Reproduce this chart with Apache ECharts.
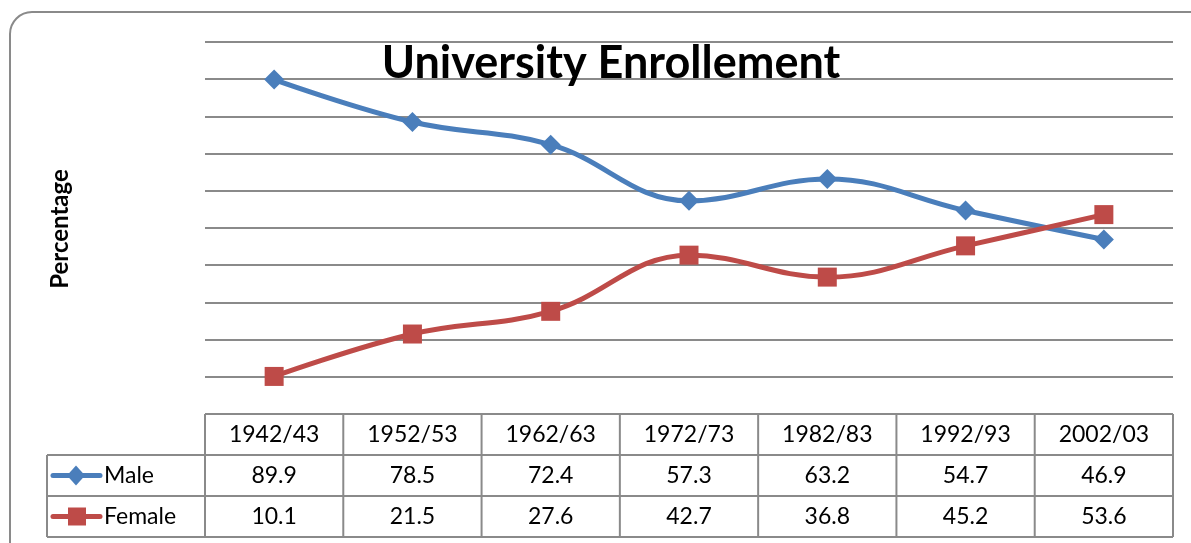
<!DOCTYPE html>
<html>
<head>
<meta charset="utf-8">
<script src="https://cdn.jsdelivr.net/npm/echarts@6/dist/echarts.min.js"></script>
<style>
  html, body { margin: 0; padding: 0; background: #fff; }
  #main { width: 1191px; height: 543px; }
</style>
</head>
<body>
<div id="main"></div>
<script>
// data
var years = ['1942/43', '1952/53', '1962/63', '1972/73', '1982/83', '1992/93', '2002/03']
var male = [89.9, 78.5, 72.4, 57.3, 63.2, 54.7, 46.9]
var female = [10.1, 21.5, 27.6, 42.7, 36.8, 45.2, 53.6]

var maleColor = '#4a7ebb'
var femaleColor = '#be4b48'
var font = 'Lato, "Open Sans", sans-serif'

// plot/table layout
var plotLeft = 205
var plotRight = 1173
var plotTop = 42
var plotBottom = 414
var rowH = 41
var keyLeft = 47
var lineGray = '#8a8a8a'

var chart = echarts.init(document.getElementById('main'))

function buildTable () {
  var els = []
  var colW = (plotRight - plotLeft) / years.length
  var rows = [
    { name: 'Male', data: male, color: maleColor, symbol: 'diamond' },
    { name: 'Female', data: female, color: femaleColor, symbol: 'rect' }
  ]
  var y0 = plotBottom
  var yEnd = y0 + rowH * 3
  // horizontal lines
  els.push({ type: 'line', shape: { x1: plotLeft, y1: y0, x2: plotRight, y2: y0 }, style: { stroke: lineGray, lineWidth: 2 } })
  for (var r = 1; r <= 3; r++) {
    els.push({ type: 'line', shape: { x1: keyLeft, y1: y0 + rowH * r, x2: plotRight, y2: y0 + rowH * r }, style: { stroke: lineGray, lineWidth: 2 } })
  }
  // vertical lines
  els.push({ type: 'line', shape: { x1: keyLeft, y1: y0 + rowH, x2: keyLeft, y2: yEnd }, style: { stroke: lineGray, lineWidth: 2 } })
  for (var c = 0; c <= years.length; c++) {
    var x = plotLeft + colW * c
    els.push({ type: 'line', shape: { x1: x, y1: y0, x2: x, y2: yEnd }, style: { stroke: lineGray, lineWidth: 2 } })
  }
  // header
  years.forEach(function (yr, i) {
    els.push({
      type: 'text', x: plotLeft + colW * (i + 0.5), y: y0 + rowH / 2,
      style: { text: yr, fill: '#000', font: '23px ' + font, align: 'center', verticalAlign: 'middle' }
    })
  })
  // rows
  rows.forEach(function (row, r) {
    var cy = y0 + rowH * (r + 1.5)
    els.push({ type: 'line', shape: { x1: 53, y1: cy, x2: 100, y2: cy }, style: { stroke: row.color, lineWidth: 5, lineCap: 'round' } })
    if (row.symbol === 'diamond') {
      els.push({ type: 'polygon', shape: { points: [[76, cy - 10], [85, cy], [76, cy + 10], [67, cy]] }, style: { fill: row.color } })
    } else {
      els.push({ type: 'rect', shape: { x: 68, y: cy - 9, width: 18, height: 18 }, style: { fill: row.color } })
    }
    els.push({
      type: 'text', x: 104, y: cy,
      style: { text: row.name, fill: '#000', font: '23px ' + font, verticalAlign: 'middle' }
    })
    row.data.forEach(function (v, i) {
      els.push({
        type: 'text', x: plotLeft + colW * (i + 0.5), y: cy,
        style: { text: v.toFixed(1), fill: '#000', font: '23px ' + font, align: 'center', verticalAlign: 'middle' }
      })
    })
  })
  // rounded outer frame
  els.push({
    type: 'rect', shape: { x: 10, y: 12, width: 1220, height: 580, r: 22 },
    style: { fill: 'none', stroke: '#8a8a8a', lineWidth: 2 }, z: -1
  })
  // y-axis name
  els.push({
    type: 'text', x: 60, y: 229, rotation: Math.PI / 2,
    style: { text: 'Percentage', fill: '#000', font: 'bold 24px ' + font, align: 'center', verticalAlign: 'middle' }
  })
  return els
}

var option = {
  backgroundColor: '#fff',
  animation: false,
  title: {
    text: 'University Enrollement',
    left: 606,
    textAlign: 'center',
    top: 36,
    textStyle: { fontFamily: font, fontWeight: 'bold', fontSize: 45, color: '#000' }
  },
  grid: {
    left: plotLeft,
    right: 1191 - plotRight,
    top: plotTop,
    bottom: 543 - plotBottom
  },
  xAxis: {
    type: 'category',
    data: years,
    boundaryGap: true,
    axisLine: { show: false },
    axisTick: { show: false },
    axisLabel: { show: false }
  },
  yAxis: {
    type: 'value',
    min: 0,
    max: 100,
    interval: 10,
    axisLine: { show: false },
    axisTick: { show: false },
    axisLabel: { show: false },
    splitLine: { lineStyle: { color: lineGray, width: 2 } }
  },
  series: [{
    name: 'Male',
    type: 'line',
    data: male,
    smooth: 0.4,
    symbol: 'diamond',
    symbolSize: 20,
    lineStyle: { color: maleColor, width: 5 },
    itemStyle: { color: maleColor }
  }, {
    name: 'Female',
    type: 'line',
    data: female,
    smooth: 0.4,
    symbol: 'rect',
    symbolSize: 19,
    lineStyle: { color: femaleColor, width: 5 },
    itemStyle: { color: femaleColor }
  }],
  graphic: buildTable()
}

chart.setOption(option)
</script>
</body>
</html>
